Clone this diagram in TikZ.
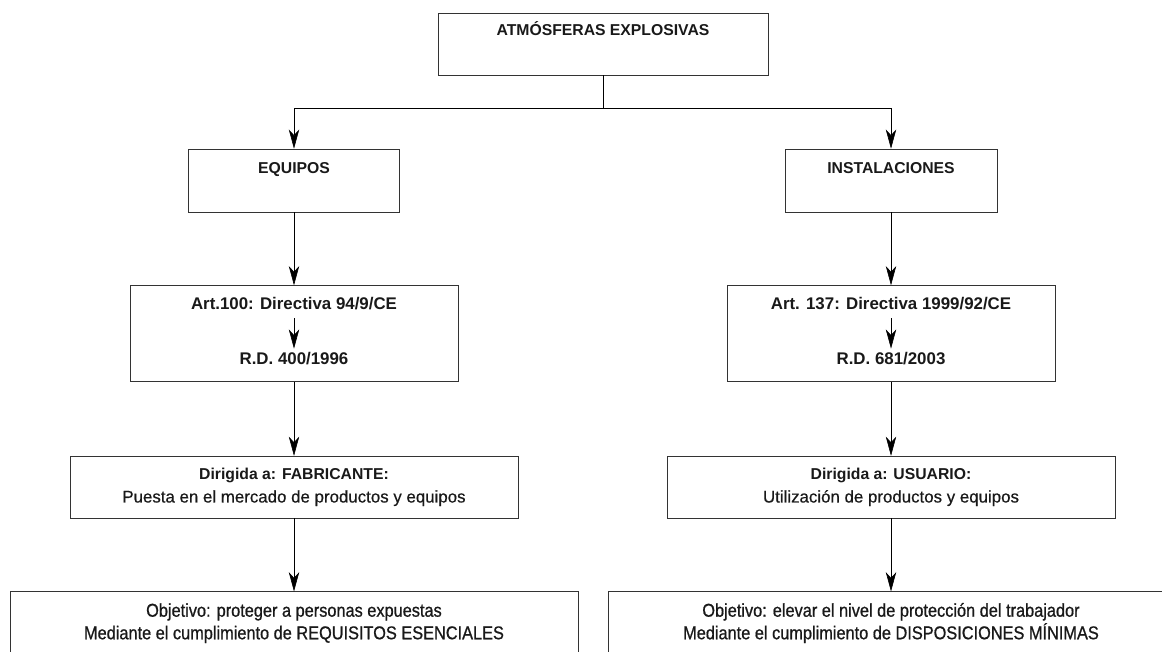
\documentclass[tikz,border=0pt]{standalone}
\usepackage{fontspec}
\setmainfont{Liberation Sans}
\newfontfamily\condfont[FakeStretch=0.88,FakeBold=0.8]{Liberation Sans}
\newfontfamily\medfont[FakeBold=0.5]{Liberation Sans}
\usetikzlibrary{positioning,arrows.meta}
\tikzset{->,>={Stealth[length=4.8mm,width=2.6mm,inset=1.4mm]},
line width=1.1pt,draw=black!80,
bx/.style={rectangle,draw=black!80,inner sep=0pt},
hd/.style={inner sep=0pt,text height=2.9mm,text depth=0.8mm,text=black!90,font=\fontsize{11.2}{13}\selectfont\bfseries},
ar/.style={hd,font=\fontsize{12}{14}\selectfont\bfseries},
tx/.style={hd,font=\medfont\fontsize{12}{14}\selectfont},
ob/.style={hd,font=\condfont\fontsize{13.2}{15}\selectfont},
inarr/.style={shorten <=1.3mm,shorten >=1.1mm},
}

\begin{document}
\begin{tikzpicture}
	\useasboundingbox (0,0) rectangle (29.05,-16.275);

	\node[bx,minimum width=8.25cm,minimum height=1.55cm] (t0) at (15.075,-1.1) {};
	\node[hd,below=2.6mm of t0.north] (t0t) {ATMÓSFERAS EXPLOSIVAS};
	\coordinate[below=0.825cm of t0.south] (fk);

	% equipos
	\node[bx,minimum width=5.275cm,minimum height=1.575cm] (e1) at (7.35,-4.5125) {};
	\node[hd,below=3.1mm of e1.north] (e1t) {EQUIPOS};
	\node[bx,minimum width=8.2cm,minimum height=2.4cm,below=1.825cm of e1] (e2) {};
	\node[ar,below=3.1mm of e2.north] (e2a) {Art.100: Directiva 94/9/CE};
	\node[ar,below=1cm of e2a] (e2b) {R.D. 400/1996};
	\node[bx,minimum width=11.2cm,minimum height=1.55cm,below=1.85cm of e2] (e3) {};
	\node[hd,below=2.85mm of e3.north] (e3a) {Dirigida a: FABRICANTE:};
	\node[tx,below=2mm of e3a] (e3b) {Puesta en el mercado de productos y equipos};
	\node[bx,minimum width=14.2cm,minimum height=2cm,below=1.825cm of e3] (e4) {};
	\node[ob,below=3.35mm of e4.north] (e4a) {Objetivo: proteger a personas expuestas};
	\node[ob,below=1.8mm of e4a] (e4b) {Mediante el cumplimiento de REQUISITOS ESENCIALES};

	% instalaciones
	\node[bx,minimum width=5.3cm,minimum height=1.575cm] (i1) at (22.275,-4.5125) {};
	\node[hd,below=3.1mm of i1.north] (i1t) {INSTALACIONES};
	\node[bx,minimum width=8.2cm,minimum height=2.4cm,below=1.825cm of i1] (i2) {};
	\node[ar,below=3.1mm of i2.north] (i2a) {Art. 137: Directiva 1999/92/CE};
	\node[ar,below=1cm of i2a] (i2b) {R.D. 681/2003};
	\node[bx,minimum width=11.2cm,minimum height=1.55cm,below=1.85cm of i2] (i3) {};
	\node[hd,below=2.85mm of i3.north] (i3a) {Dirigida a: USUARIO:};
	\node[tx,below=2mm of i3a] (i3b) {Utilización de productos y equipos};
	\node[bx,minimum width=14.15cm,minimum height=2cm,below=1.825cm of i3] (i4) {};
	\node[ob,below=3.35mm of i4.north] (i4a) {Objetivo: elevar el nivel de protección del trabajador};
	\node[ob,below=1.8mm of i4a] (i4b) {Mediante el cumplimiento de DISPOSICIONES MÍNIMAS};

	\draw[-] (t0) -- (fk);
	\draw (fk) -| (e1);
	\draw (fk) -| (i1);

	\path
	(e1) edge (e2)
	(e2) edge (e3)
	(e3) edge (e4)
	(i1) edge (i2)
	(i2) edge (i3)
	(i3) edge (i4)
	(e2a) edge[inarr] (e2b)
	(i2a) edge[inarr] (i2b)
	;
\end{tikzpicture}
\end{document}
